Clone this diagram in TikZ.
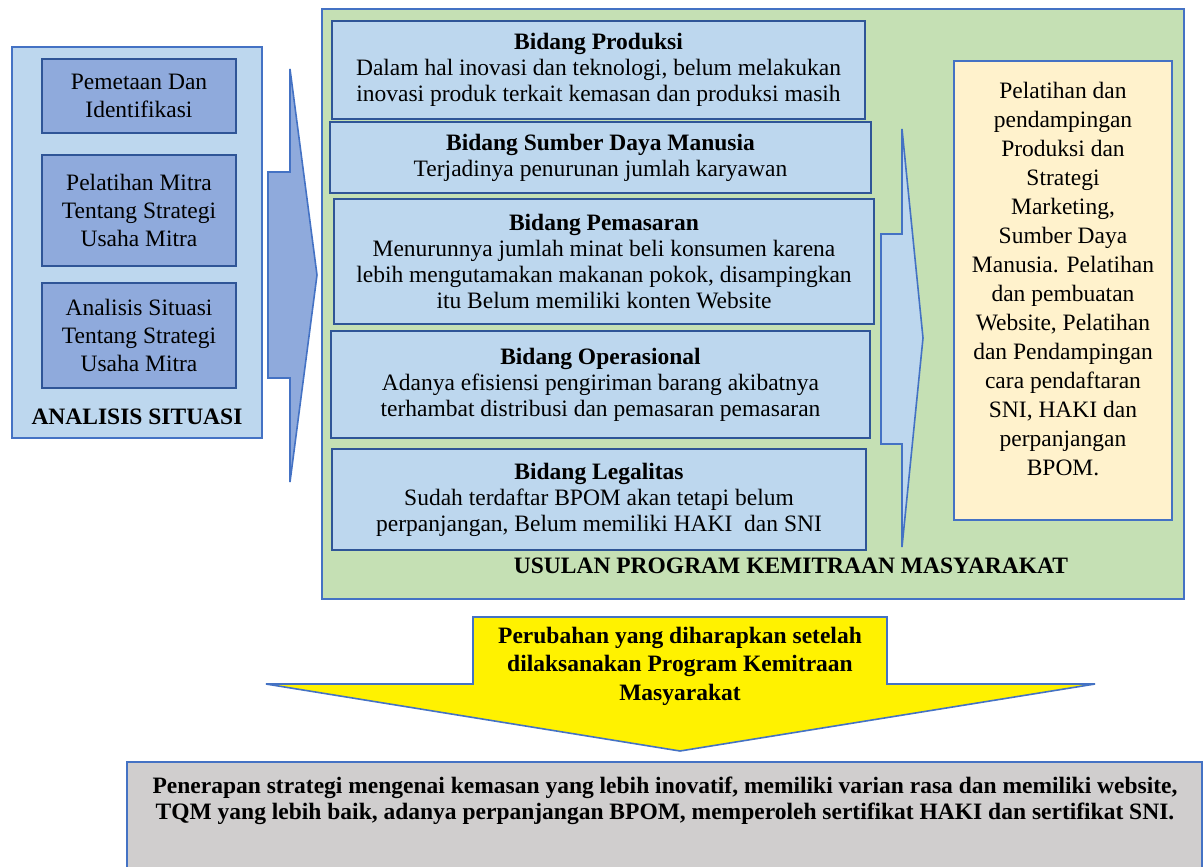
\documentclass[tikz,border=0pt]{standalone}
\usepackage{fontspec}
\setmainfont{LiberationSerif}[Extension=.ttf, UprightFont=*-Regular, BoldFont=*-Bold, ItalicFont=*-Italic, BoldItalicFont=*-BoldItalic]
\definecolor{lblue}{HTML}{BDD7EE}
\definecolor{mblue}{HTML}{8FAADC}
\definecolor{bblue}{HTML}{4472C4}
\definecolor{dblue}{HTML}{2F5597}
\definecolor{lgreen}{HTML}{C5E0B4}
\definecolor{cream}{HTML}{FFF2CC}
\definecolor{ggray}{HTML}{D0CECE}
\begin{document}
\begin{tikzpicture}[x=1pt,y=-1pt,
  txt/.style={font=\fontsize{23.5}{26}\selectfont, align=center, inner sep=0pt},
  panel/.style={draw=bblue, line width=1.6pt, inner sep=0pt},
  leftitem/.style={draw=dblue, fill=mblue, line width=1.6pt, inner sep=0pt,
    font=\fontsize{23.5}{28}\selectfont, align=center},
  bidang/.style={draw=dblue, fill=lblue, line width=1.6pt, inner sep=0pt,
    font=\fontsize{23.5}{26}\selectfont, align=center},
  bigarrow/.style={draw=bblue, line width=1.6pt, line join=miter}
]
\clip (0,0) rectangle (1203,867);
\fill[white] (0,0) rectangle (1203,867);

% left panel
\node[panel, fill=lblue, minimum width=250pt, minimum height=391pt] (left) at (137,242.5) {};
\node[leftitem, minimum width=194pt, minimum height=74pt] (pemetaan) at (139,96) {Pemetaan Dan\\Identifikasi};
\node[leftitem, minimum width=194pt, minimum height=111pt] (pelatihan) at (139,210.5) {Pelatihan Mitra\\Tentang Strategi\\Usaha Mitra};
\node[leftitem, minimum width=194pt, minimum height=105pt] (analisis) at (139,335.5) {Analisis Situasi\\Tentang Strategi\\Usaha Mitra};
\node[txt, font=\fontsize{23.5}{26}\selectfont\bfseries] (analisislbl) at (137,417) {ANALISIS SITUASI};

% left arrow
\draw[bigarrow, fill=mblue] (268,172) -- (290,172) -- (290,69) -- (317,275) -- (290,482) -- (290,378) -- (268,378) -- cycle;

% green panel
\node[panel, fill=lgreen, minimum width=862pt, minimum height=590pt] (usulanbox) at (753,304) {};
\node[bidang, minimum width=533pt, minimum height=98pt] (produksi) at (598.5,70)
  {\textbf{Bidang Produksi}\\Dalam hal inovasi dan teknologi, belum melakukan\\inovasi produk terkait kemasan dan produksi masih};
\node[bidang, minimum width=541pt, minimum height=71pt] (sdm) at (600.5,157.5)
  {\textbf{Bidang Sumber Daya Manusia}\\Terjadinya penurunan jumlah karyawan};
\node[bidang, minimum width=540pt, minimum height=125pt] (pemasaran) at (604,261.5)
  {\textbf{Bidang Pemasaran}\\Menurunnya jumlah minat beli konsumen karena\\lebih mengutamakan makanan pokok, disampingkan\\itu Belum memiliki konten Website};
\node[bidang, minimum width=539pt, minimum height=107pt] (operasional) at (600.5,384.5)
  {\textbf{Bidang Operasional}\\Adanya efisiensi pengiriman barang akibatnya\\terhambat distribusi dan pemasaran pemasaran};
\node[bidang, minimum width=534pt, minimum height=101pt] (legalitas) at (599,499.5)
  {\textbf{Bidang Legalitas}\\Sudah terdaftar BPOM akan tetapi belum\\perpanjangan, Belum memiliki HAKI\ \ dan SNI};

% middle arrow
\draw[bigarrow, fill=lblue] (881,234) -- (902,234) -- (902,129) -- (923,338) -- (902,547) -- (902,444) -- (881,444) -- cycle;

% cream box
\node[panel, fill=cream, minimum width=218pt, minimum height=459pt] (cream) at (1063,290.5) {};
\node[txt, font=\fontsize{23.5}{29}\selectfont] (creamtext) at (1063,279)
  {Pelatihan dan\\pendampingan\\Produksi dan\\Strategi\\Marketing,\\Sumber Daya\\Manusia. Pelatihan\\dan pembuatan\\Website, Pelatihan\\dan Pendampingan\\cara pendaftaran\\SNI, HAKI dan\\perpanjangan\\BPOM.};

\node[txt, font=\fontsize{23.5}{26}\selectfont\bfseries] (usulanlbl) at (791,566) {USULAN PROGRAM KEMITRAAN MASYARAKAT};

% yellow arrow
\draw[bigarrow, fill=yellow] (473,617) -- (887,617) -- (887,684) -- (1095,684) -- (680,751) -- (266,684) -- (473,684) -- cycle;
\node[txt, font=\fontsize{23.5}{28.5}\selectfont\bfseries] (perubahan) at (680,666)
  {Perubahan yang diharapkan setelah\\dilaksanakan Program Kemitraan\\Masyarakat};

% gray box
\draw[panel, fill=ggray] (127,762) rectangle (1202,900);
\node[txt, font=\fontsize{23.5}{26}\selectfont\bfseries] (penerapan) at (665,801)
  {Penerapan strategi mengenai kemasan yang lebih inovatif, memiliki varian rasa dan memiliki website,\\TQM yang lebih baik, adanya perpanjangan BPOM, memperoleh sertifikat HAKI dan sertifikat SNI.};
\end{tikzpicture}
\end{document}
